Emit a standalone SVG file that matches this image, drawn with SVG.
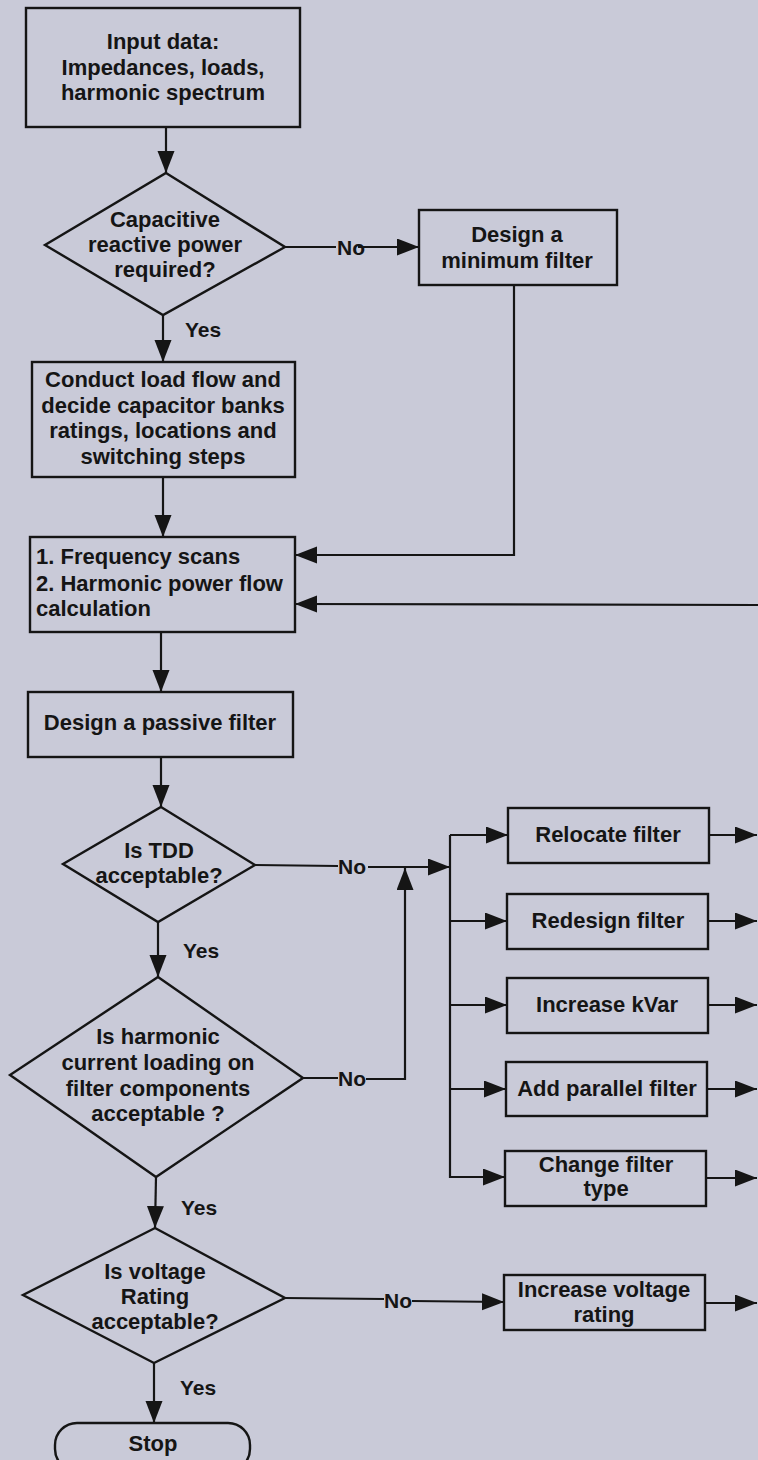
<svg xmlns="http://www.w3.org/2000/svg" width="758" height="1460" viewBox="0 0 758 1460">
<style>
.bg{fill:#c9cad8}
.box{fill:none;stroke:#151515;stroke-width:2.4}
.ln{fill:none;stroke:#151515;stroke-width:2.2}
.arr{marker-end:url(#ah)}
text{font-family:"Liberation Sans",Arial,sans-serif;font-weight:bold;font-size:22px;fill:#151515}
.c{text-anchor:middle}
.lbl{font-size:21px}
</style>
<defs>
<marker id="ah" markerUnits="userSpaceOnUse" markerWidth="24" markerHeight="18" refX="22" refY="8.5" orient="auto">
<path d="M0,0 L22,8.5 L0,17 z" fill="#151515"/>
</marker>
</defs>
<rect class="bg" x="0" y="0" width="758" height="1460"/>

<g id="connectors">
<line class="ln arr" x1="166" y1="127" x2="166" y2="173"/>
<line class="ln" x1="285" y1="247" x2="336" y2="247"/>
<line class="ln arr" x1="358" y1="247" x2="419" y2="247"/>
<line class="ln arr" x1="163" y1="315" x2="163" y2="362"/>
<line class="ln arr" x1="163" y1="477" x2="163" y2="537"/>
<polyline class="ln arr" points="514,285 514,555 295,555"/>
<line class="ln arr" x1="758" y1="605" x2="295" y2="604"/>
<line class="ln arr" x1="161" y1="632" x2="161" y2="692"/>
<line class="ln arr" x1="161" y1="757" x2="161" y2="807"/>
<line class="ln" x1="255" y1="865" x2="338" y2="866"/>
<line class="ln arr" x1="368" y1="867" x2="450" y2="867"/>
<line class="ln arr" x1="158" y1="922" x2="158" y2="977"/>
<line class="ln" x1="303" y1="1078" x2="338" y2="1078"/>
<polyline class="ln arr" points="366,1079 405,1079 405,868"/>
<line class="ln" x1="450" y1="835" x2="450" y2="1178"/>
<line class="ln arr" x1="450" y1="835" x2="508" y2="835"/>
<line class="ln arr" x1="450" y1="921" x2="507" y2="921"/>
<line class="ln arr" x1="450" y1="1005" x2="507" y2="1005"/>
<line class="ln arr" x1="450" y1="1089" x2="506" y2="1089"/>
<line class="ln arr" x1="450" y1="1177" x2="505" y2="1177"/>
<line class="ln arr" x1="709" y1="835" x2="757" y2="835"/>
<line class="ln arr" x1="708" y1="921" x2="757" y2="921"/>
<line class="ln arr" x1="708" y1="1005" x2="757" y2="1005"/>
<line class="ln arr" x1="707" y1="1089" x2="757" y2="1089"/>
<line class="ln arr" x1="706" y1="1178" x2="757" y2="1178"/>
<line class="ln arr" x1="156" y1="1177" x2="155" y2="1228"/>
<line class="ln" x1="285" y1="1298" x2="384" y2="1299"/>
<line class="ln arr" x1="412" y1="1301" x2="504" y2="1302"/>
<line class="ln arr" x1="705" y1="1303" x2="757" y2="1303"/>
<line class="ln arr" x1="154" y1="1363" x2="154" y2="1423"/>
<text class="lbl" x="337" y="255">No</text>
<text class="lbl" x="185" y="337">Yes</text>
<text class="lbl" x="338" y="874">No</text>
<text class="lbl" x="183" y="958">Yes</text>
<text class="lbl" x="338" y="1086">No</text>
<text class="lbl" x="181" y="1215">Yes</text>
<text class="lbl" x="384" y="1308">No</text>
<text class="lbl" x="180" y="1395">Yes</text>
</g>

<g id="input">
<rect class="box" x="26" y="8" width="274" height="119"/>
<text class="c" x="163" y="49">Input data:</text>
<text class="c" x="163" y="75">Impedances, loads,</text>
<text class="c" x="163" y="100">harmonic spectrum</text>
</g>

<g id="capacitive">
<polygon class="box" points="166,173 285,247 163,315 45,245"/>
<text class="c" x="165" y="227">Capacitive</text>
<text class="c" x="165" y="252">reactive power</text>
<text class="c" x="165" y="277">required?</text>
</g>

<g id="minfilter">
<rect class="box" x="419" y="210" width="198" height="75"/>
<text class="c" x="517" y="242">Design a</text>
<text class="c" x="517" y="268">minimum filter</text>
</g>

<g id="loadflow">
<rect class="box" x="32" y="362" width="263" height="115"/>
<text class="c" x="163" y="387">Conduct load flow and</text>
<text class="c" x="163" y="413">decide capacitor banks</text>
<text class="c" x="163" y="438">ratings, locations and</text>
<text class="c" x="163" y="464">switching steps</text>
</g>

<g id="scan">
<rect class="box" x="30" y="537" width="265" height="95"/>
<text x="36" y="564">1. Frequency scans</text>
<text x="36" y="591">2. Harmonic power flow</text>
<text x="36" y="616">calculation</text>
</g>

<g id="passive">
<rect class="box" x="28" y="692" width="265" height="65"/>
<text class="c" x="160" y="730">Design a passive filter</text>
</g>

<g id="tdd">
<polygon class="box" points="161,807 255,865 158,922 63,864"/>
<text class="c" x="159" y="858">Is TDD</text>
<text class="c" x="159" y="883">acceptable?</text>
</g>

<g id="harmonic">
<polygon class="box" points="158,977 303,1078 156,1177 10,1075"/>
<text class="c" x="158" y="1044">Is harmonic</text>
<text class="c" x="158" y="1070">current loading on</text>
<text class="c" x="158" y="1096">filter components</text>
<text class="c" x="158" y="1121">acceptable ?</text>
</g>

<g id="voltage">
<polygon class="box" points="155,1228 285,1298 154,1363 23,1295"/>
<text class="c" x="155" y="1279">Is voltage</text>
<text class="c" x="155" y="1304">Rating</text>
<text class="c" x="155" y="1329">acceptable?</text>
</g>

<g id="relocate">
<rect class="box" x="508" y="808" width="201" height="55"/>
<text class="c" x="608" y="842">Relocate filter</text>
</g>
<g id="redesign">
<rect class="box" x="507" y="894" width="201" height="55"/>
<text class="c" x="608" y="928">Redesign filter</text>
</g>
<g id="kvar">
<rect class="box" x="507" y="978" width="201" height="55"/>
<text class="c" x="607" y="1012">Increase kVar</text>
</g>
<g id="parallel">
<rect class="box" x="506" y="1062" width="201" height="54"/>
<text class="c" x="607" y="1096">Add parallel filter</text>
</g>
<g id="changetype">
<rect class="box" x="505" y="1151" width="201" height="55"/>
<text class="c" x="606" y="1172">Change filter</text>
<text class="c" x="606" y="1196">type</text>
</g>
<g id="incvoltage">
<rect class="box" x="504" y="1275" width="201" height="55"/>
<text class="c" x="604" y="1297">Increase voltage</text>
<text class="c" x="604" y="1322">rating</text>
</g>

<g id="stop">
<rect class="box" x="55" y="1423" width="195" height="48" rx="22" ry="22"/>
<text class="c" x="153" y="1451">Stop</text>
</g>
</svg>
